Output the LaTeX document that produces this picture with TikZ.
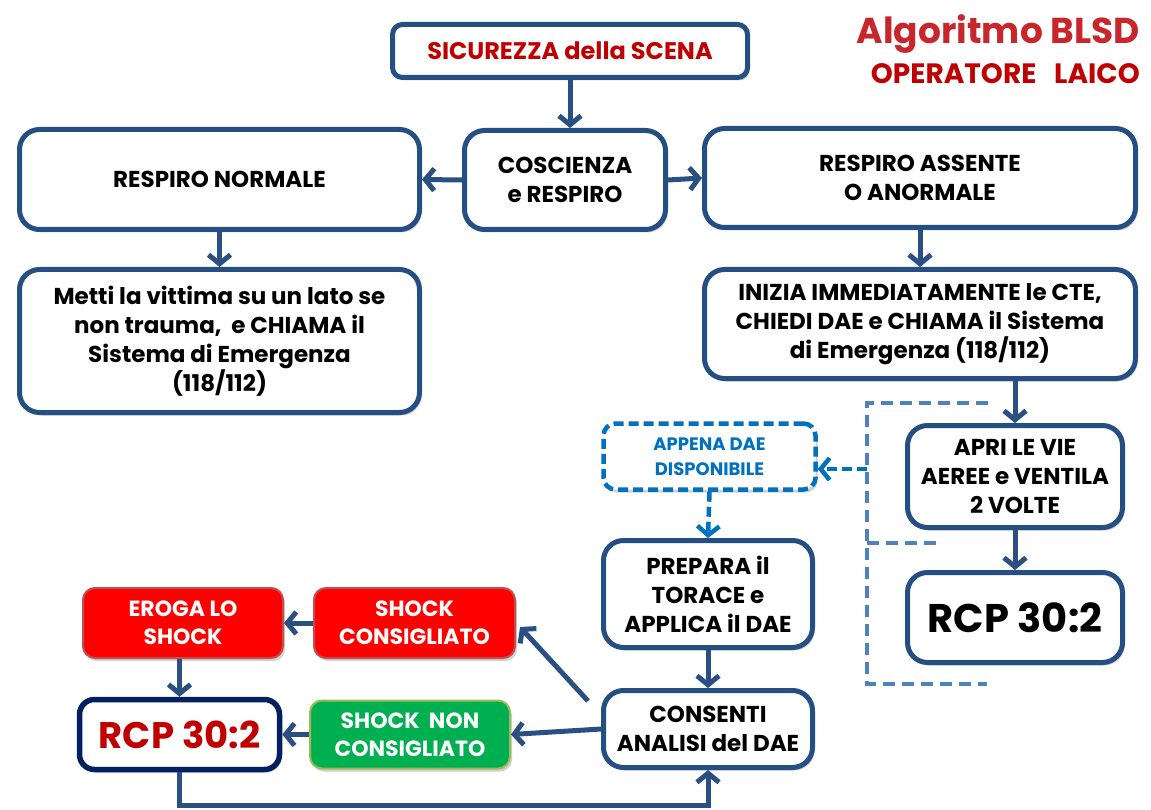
\documentclass[tikz,border=0pt]{standalone}
\usepackage{fontspec}
\setmainfont{Poppins}
\usetikzlibrary{arrows.meta,shadows,calc}
\definecolor{bdr}{HTML}{254E82}
\definecolor{arrc}{HTML}{2A4F82}
\definecolor{navy}{HTML}{002060}
\definecolor{dred}{HTML}{C00000}
\definecolor{titred}{HTML}{C8262B}
\definecolor{shred}{HTML}{FF0000}
\definecolor{shredb}{HTML}{C0504D}
\definecolor{shgreen}{HTML}{00B050}
\definecolor{shgreenb}{HTML}{9BBB59}
\definecolor{daeblue}{HTML}{0070C0}
\definecolor{brkblue}{HTML}{4F81BD}
\tikzset{
  shad/.style={drop shadow={shadow xshift=2pt, shadow yshift=-3pt, fill=black!40, opacity=0.45}},
  box/.style={draw=bdr, line width=5pt, rounded corners=20pt, fill=white, align=center,
    font=\bfseries\fontsize{23}{29}\selectfont, inner sep=0pt, shad},
  arr/.style={draw=arrc, line width=5pt, -{Straight Barb[length=9pt,width=22pt]}},
  darr/.style={draw=daeblue, line width=4.5pt, dash pattern=on 10pt off 5pt, -{Straight Barb[length=9pt,width=22pt]}},
  brk/.style={draw=brkblue, line width=4pt, dash pattern=on 12pt off 7pt},
  redbox/.style={fill=shred, draw=shredb, line width=2pt, rounded corners=12pt, text=white, align=center,
    font=\bfseries\fontsize{22}{28}\selectfont, inner sep=0pt, shad},
  greenbox/.style={fill=shgreen, draw=shgreenb, line width=2pt, rounded corners=12pt, text=white, align=center,
    font=\bfseries\fontsize{22}{28}\selectfont, inner sep=0pt, shad},
}
\begin{document}
\begin{tikzpicture}[x=1pt,y=-1pt]
\useasboundingbox[fill=white] (0,0) rectangle (1151,810);

% title
\node[anchor=base east, inner sep=0pt, text=titred, font=\bfseries\fontsize{36}{40}\selectfont] (t1) at (1140,44) {Algoritmo BLSD};
\node[anchor=base east, inner sep=0pt, text=dred, font=\bfseries\fontsize{28}{30}\selectfont] (t2) at (1140,84) {OPERATORE\ \ \ LAICO};

% boxes
\node[box, rounded corners=10pt, minimum width=355pt, minimum height=53pt, text=dred, font=\bfseries\fontsize{24}{29}\selectfont] (sic) at (570,51) {SICUREZZA della SCENA};
\node[box, minimum width=201pt, minimum height=99pt] (cos) at (565,180) {COSCIENZA\\e RESPIRO};
\node[box, minimum width=400pt, minimum height=100pt] (rn) at (219.5,179.5) {RESPIRO NORMALE};
\node[box, minimum width=431pt, minimum height=99pt] (ra) at (920,178) {RESPIRO ASSENTE\\O ANORMALE};
\node[box, minimum width=400pt, minimum height=143pt] (metti) at (219.5,341) {Metti la vittima su un lato se\\non trauma,\ \ e CHIAMA il\\Sistema di Emergenza\\(118/112)};
\node[box, minimum width=431pt, minimum height=109pt] (inizia) at (920,324) {INIZIA IMMEDIATAMENTE le CTE,\\CHIEDI DAE e CHIAMA il Sistema\\di Emergenza (118/112)};
\node[box, draw=daeblue, line width=4.5pt, dash pattern=on 10pt off 5pt, rounded corners=12pt, text=daeblue,
  font=\bfseries\fontsize{18}{25}\selectfont, minimum width=212pt, minimum height=66pt] (appena) at (709.5,456.5) {APPENA DAE\\DISPONIBILE};
\node[box, minimum width=215pt, minimum height=102pt] (apri) at (1015,476.5) {APRI LE VIE\\AEREE e VENTILA\\2 VOLTE};
\node[box, minimum width=209pt, minimum height=107pt] (prep) at (708,594) {PREPARA il\\TORACE e\\APPLICA il DAE};
\node[box, minimum width=215pt, minimum height=90pt, font=\bfseries\fontsize{40}{42}\selectfont] (rcpr) at (1015,617.5) {RCP 30:2};
\node[box, minimum width=209pt, minimum height=77pt] (cons) at (708,729) {CONSENTI\\ANALISI del DAE};
\node[redbox, minimum width=200pt, minimum height=70pt] (eroga) at (183,623) {EROGA LO\\SHOCK};
\node[redbox, minimum width=201pt, minimum height=70pt] (shc) at (414.5,623) {SHOCK\\CONSIGLIATO};
\node[box, draw=navy, line width=5.5pt, rounded corners=15pt, text=dred, minimum width=200pt, minimum height=70pt,
  font=\bfseries\fontsize{37}{40}\selectfont] (rcpl) at (179.5,734.5) {RCP 30:2};
\node[greenbox, minimum width=200pt, minimum height=68pt] (shn) at (410,734.5) {SHOCK\ \ NON\\CONSIGLIATO};

% dashed brackets
\coordinate (b1) at (988,403);
\coordinate (b2) at (867,684);
\coordinate (b3) at (987,684);
\coordinate (b4) at (867,543);
\coordinate (b5) at (938,543);
\coordinate (b6) at (867,469);
\draw[brk] (b1) -| (b2) -- (b3);
\draw[brk] (b4) -- (b5);

% connectors
\draw[arr] (sic.south) -- (sic.south |- cos.north);
\draw[arr] (cos.west) -- (rn.east);
\draw[arr] (cos.east) -- (ra.west);
\draw[arr] (rn.south) -- (metti.north);
\draw[arr] (ra.south) -- (inizia.north);
\draw[arr] (apri.north |- inizia.south) -- (apri.north);
\draw[arr] (apri.south) -- (rcpr.north);
\draw[darr] (b6) -- (appena.east |- b6);
\draw[darr] (appena.south) -- (prep.north);
\draw[arr] (prep.south) -- (cons.north);
\coordinate (c1) at ($(cons.north west)+(-13,13)$);
\coordinate (c2) at ($(shc.east)+(4,4)$);
\draw[arr] (c1) -- (c2);
\draw[arr] (cons.west) -- (shn.east);
\draw[arr] (shc.west) -- (eroga.east);
\draw[arr] (rcpl.north |- eroga.south) -- (rcpl.north);
\draw[arr] (shn.west) -- (rcpl.east);
\draw[arr] (rcpl.south) -- ++(0,33) -| (cons.south);
\end{tikzpicture}
\end{document}
